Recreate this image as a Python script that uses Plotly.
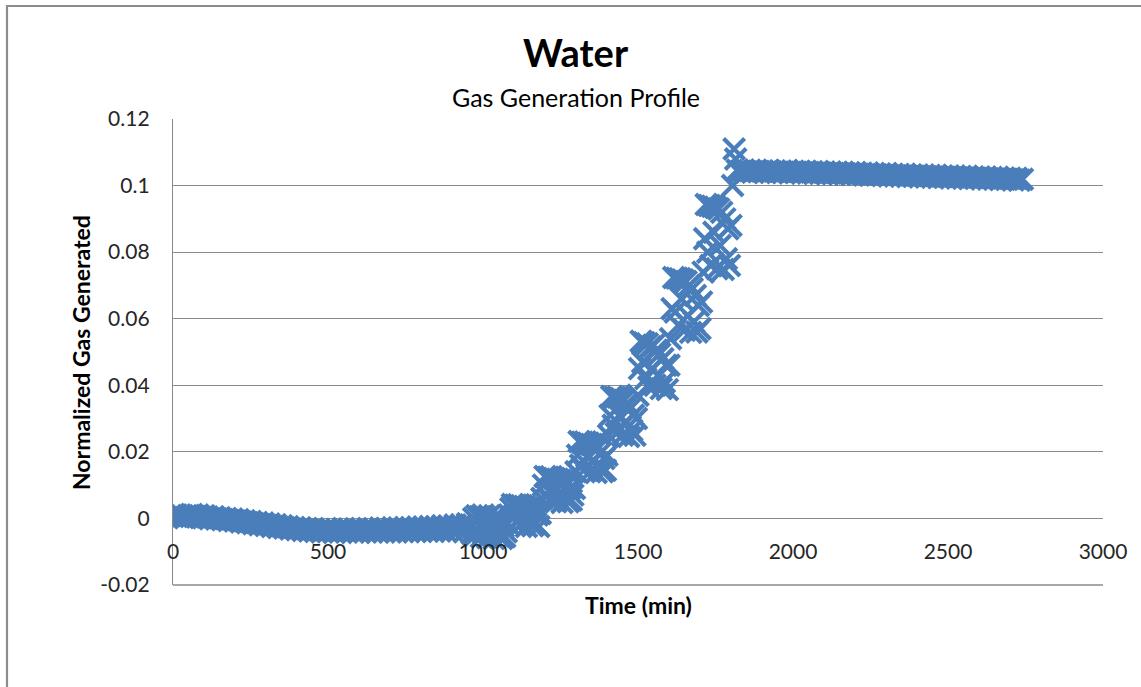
import plotly.graph_objects as go

# --- Data: normalized gas generated vs. time (min) ---
# Early drift, sampled every 10 min (0 .. 950)
early_time = list(range(0, 951, 10))
early_gas = [
    0.0006, 0.0010, 0.0004, 0.0008, 0.0002, 0.0009, 0.0012, 0.0006, 0.0010, 0.0003,
    0.0008, 0.0004, -0.0001, 0.0005, -0.0002, 0.0002, -0.0004, 0.0000, -0.0006, -0.0002,
    -0.0008, -0.0004, -0.0011, -0.0007, -0.0013, -0.0009, -0.0016, -0.0012, -0.0019, -0.0014,
    -0.0021, -0.0017, -0.0024, -0.0019, -0.0027, -0.0022, -0.0029, -0.0025, -0.0032, -0.0027,
    -0.0034, -0.0028, -0.0036, -0.0030, -0.0038, -0.0031, -0.0039, -0.0033, -0.0041, -0.0034,
    -0.0040, -0.0032, -0.0042, -0.0034, -0.0039, -0.0030, -0.0041, -0.0033, -0.0040, -0.0031,
    -0.0042, -0.0033, -0.0039, -0.0030, -0.0041, -0.0032, -0.0040, -0.0029, -0.0041, -0.0031,
    -0.0040, -0.0028, -0.0041, -0.0030, -0.0039, -0.0027, -0.0040, -0.0029, -0.0038, -0.0026,
    -0.0039, -0.0026, -0.0038, -0.0024, -0.0039, -0.0025, -0.0037, -0.0022, -0.0038, -0.0023,
    -0.0036, -0.0020, -0.0037, -0.0019, -0.0040, -0.0016,
]

# Stepwise generation, sampled every 5 min (960 .. 1815)
step_time = list(range(960, 1816, 5))
step_gas = [
    # 960 - 1075
    -0.0020, -0.0045, 0.0000, -0.0050, 0.0008, -0.0040, 0.0005, -0.0055, 0.0010, -0.0035,
    0.0002, -0.0058, 0.0008, -0.0045, -0.0010, -0.0060, 0.0006, -0.0030, -0.0052, 0.0004,
    -0.0060, -0.0025, -0.0055, -0.0040,
    # 1080 - 1180
    -0.0015, 0.0010, 0.0030, 0.0042, 0.0005, 0.0040, -0.0010, 0.0041, -0.0020, 0.0038,
    0.0010, 0.0036, -0.0024, 0.0032, -0.0005, 0.0028, -0.0022, 0.0020, -0.0015, 0.0010,
    -0.0024,
    # 1185 - 1290
    0.0015, 0.0060, 0.0100, 0.0126, 0.0070, 0.0124, 0.0055, 0.0125, 0.0090, 0.0120,
    0.0050, 0.0118, 0.0075, 0.0115, 0.0048, 0.0110, 0.0065, 0.0100, 0.0050, 0.0090,
    0.0055, 0.0070,
    # 1295 - 1395
    0.0090, 0.0140, 0.0190, 0.0231, 0.0160, 0.0229, 0.0145, 0.0230, 0.0185, 0.0226,
    0.0140, 0.0222, 0.0170, 0.0218, 0.0138, 0.0210, 0.0155, 0.0198, 0.0140, 0.0180,
    0.0145,
    # 1400 - 1490
    0.0190, 0.0250, 0.0310, 0.0366, 0.0280, 0.0364, 0.0255, 0.0365, 0.0310, 0.0360,
    0.0250, 0.0355, 0.0290, 0.0345, 0.0246, 0.0330, 0.0265, 0.0310, 0.0250,
    # 1495 - 1595
    0.0300, 0.0370, 0.0450, 0.0532, 0.0470, 0.0528, 0.0420, 0.0525, 0.0395, 0.0515,
    0.0450, 0.0520, 0.0400, 0.0505, 0.0430, 0.0495, 0.0390, 0.0480, 0.0410, 0.0460,
    0.0387,
    # 1600 - 1700
    0.0460, 0.0540, 0.0630, 0.0724, 0.0620, 0.0722, 0.0580, 0.0720, 0.0660, 0.0716,
    0.0565, 0.0712, 0.0610, 0.0700, 0.0559, 0.0690, 0.0590, 0.0670, 0.0560, 0.0640,
    0.0570,
    # 1705 - 1795
    0.0650, 0.0740, 0.0840, 0.0943, 0.0800, 0.0940, 0.0760, 0.0938, 0.0860, 0.0935,
    0.0750, 0.0930, 0.0820, 0.0920, 0.0748, 0.0900, 0.0780, 0.0870, 0.0760,
    # 1800 - 1815
    0.0880, 0.1000, 0.1110, 0.1080,
]

# Plateau, sampled every 10 min (1820 .. 2740)
late_time = list(range(1820, 2741, 10))
late_gas = [
    0.1046, 0.1042, 0.1047, 0.1041, 0.1045, 0.1040, 0.1046, 0.1042, 0.1044, 0.1039,
    0.1045, 0.1041, 0.1044, 0.1039, 0.1043, 0.1040, 0.1045, 0.1038, 0.1043, 0.1040,
    0.1042, 0.1037, 0.1043, 0.1039, 0.1041, 0.1036, 0.1042, 0.1038, 0.1040, 0.1035,
    0.1041, 0.1036, 0.1039, 0.1034, 0.1040, 0.1035, 0.1038, 0.1033, 0.1039, 0.1034,
    0.1037, 0.1032, 0.1038, 0.1031, 0.1036, 0.1032, 0.1035, 0.1030, 0.1036, 0.1029,
    0.1034, 0.1029, 0.1033, 0.1028, 0.1034, 0.1027, 0.1032, 0.1028, 0.1031, 0.1026,
    0.1032, 0.1026, 0.1030, 0.1025, 0.1031, 0.1024, 0.1029, 0.1025, 0.1028, 0.1023,
    0.1029, 0.1023, 0.1027, 0.1022, 0.1028, 0.1021, 0.1026, 0.1022, 0.1025, 0.1020,
    0.1026, 0.1020, 0.1024, 0.1019, 0.1025, 0.1018, 0.1023, 0.1019, 0.1022, 0.1017,
    0.1022, 0.1016, 0.1019,
]

x_tick_vals = [0, 500, 1000, 1500, 2000, 2500, 3000]
x_tick_text = ["0", "500", "1000", "1500", "2000", "2500", "3000"]
y_tick_vals = [-0.02, 0, 0.02, 0.04, 0.06, 0.08, 0.1, 0.12]
y_tick_text = ["-0.02", "0", "0.02", "0.04", "0.06", "0.08", "0.1", "0.12"]

assert len(early_time) == len(early_gas)
assert len(step_time) == len(step_gas)
assert len(late_time) == len(late_gas)

time_min = early_time + step_time + late_time
gas_norm = early_gas + step_gas + late_gas

FONT = "Lato, 'Open Sans', sans-serif"
GRID = "#8A8A8A"
BLUE = "#4A7EBB"

# plot-area pixel box inside the 1141 x 687 page
L, R, T, B = 173, 1103, 119, 585
W, H = R - L, B - T


def px_x(p):
    return (p - L) / W


def px_y(p):
    return (B - p) / H


fig = go.Figure()
fig.add_trace(go.Scatter(
    x=time_min, y=gas_norm, mode="markers",
    marker=dict(symbol="x-thin", size=21, color=BLUE,
                line=dict(color=BLUE, width=4.2)),
    showlegend=False, hoverinfo="x+y",
))

fig.update_layout(
    width=1141, height=687,
    margin=dict(l=L, r=1141 - R, t=T, b=687 - B, pad=0),
    paper_bgcolor="white", plot_bgcolor="white",
    font=dict(family=FONT, color="#262626"),
    xaxis=dict(
        range=[0, 3000], tickvals=x_tick_vals, ticktext=x_tick_text,
        anchor="free", position=px_y(519),
        showgrid=False, zeroline=False, showline=False,
        ticks="outside", ticklen=14, tickcolor="rgba(0,0,0,0)",
        tickfont=dict(size=21, family=FONT, color="#262626"),
    ),
    yaxis=dict(
        range=[-0.02, 0.12], tickvals=y_tick_vals, ticktext=y_tick_text,
        showgrid=True, gridcolor=GRID, gridwidth=1.4,
        zeroline=True, zerolinecolor=GRID, zerolinewidth=1.4,
        showline=True, linecolor=GRID, linewidth=1.4,
        ticks="outside", ticklen=18, tickcolor="rgba(0,0,0,0)",
        tickfont=dict(size=21, family=FONT, color="#262626"),
    ),
    shapes=[
        # outer chart frame (top and left edges visible)
        dict(type="rect", xref="paper", yref="paper",
             x0=px_x(7), x1=px_x(1150), y0=px_y(700), y1=px_y(6),
             line=dict(color="#8C8C8C", width=2.2), fillcolor="rgba(0,0,0,0)",
             layer="below"),
        # bottom border of the plotting area
        dict(type="line", xref="paper", yref="paper",
             x0=0, x1=1, y0=0, y1=0, line=dict(color=GRID, width=1.4),
             layer="below"),
    ],
    annotations=[
        dict(text="<b>Water</b>", xref="paper", yref="paper",
             x=px_x(576), y=px_y(52), xanchor="center", yanchor="middle",
             showarrow=False, font=dict(size=38, family=FONT, color="#000000")),
        dict(text="Gas Generation Profile", xref="paper", yref="paper",
             x=px_x(576), y=px_y(97), xanchor="center", yanchor="middle",
             showarrow=False, font=dict(size=25, family=FONT, color="#000000")),
        dict(text="<b>Time (min)</b>", xref="paper", yref="paper",
             x=px_x(638), y=px_y(605), xanchor="center", yanchor="middle",
             showarrow=False, font=dict(size=23, family=FONT, color="#000000")),
        dict(text="<b>Normalized Gas Generated</b>", xref="paper", yref="paper",
             x=px_x(81), y=px_y(353), xanchor="center", yanchor="middle",
             textangle=-90, showarrow=False,
             font=dict(size=23, family=FONT, color="#000000")),
    ],
)

fig.write_html("out.html")
